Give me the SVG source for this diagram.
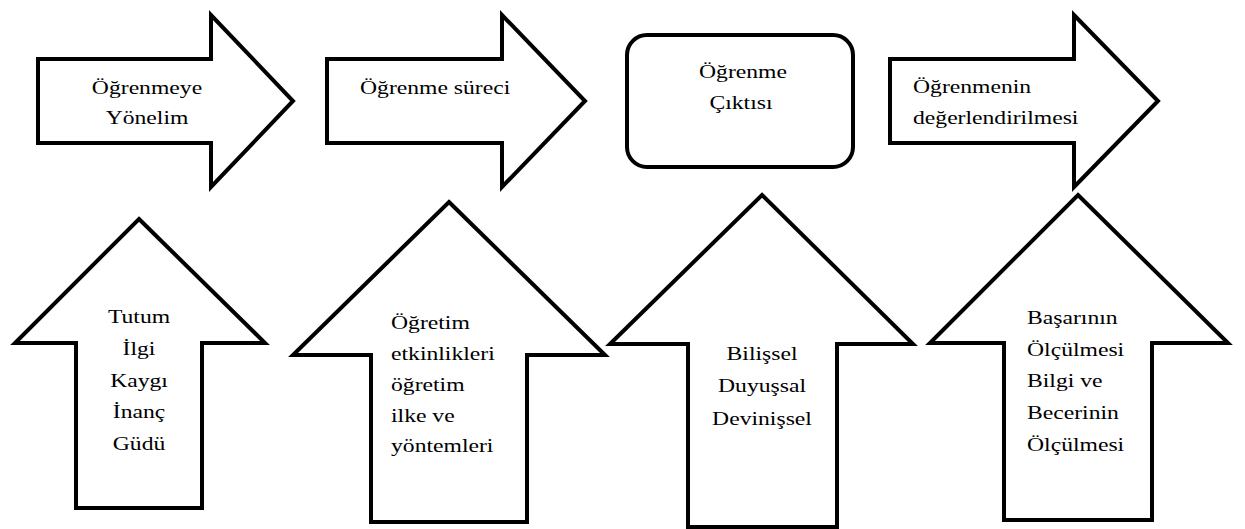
<svg xmlns="http://www.w3.org/2000/svg" width="1245" height="529" viewBox="0 0 1245 529">
<style>
.shape{fill:#fff;stroke:#000;stroke-width:4;stroke-linejoin:miter;stroke-miterlimit:10}
.t{font-family:"Liberation Serif","Times New Roman",serif;font-size:19px;fill:#000}
.c{text-anchor:middle}
</style>
<rect width="1245" height="529" fill="#fff"/>
<g id="n1">
<polygon class="shape" points="38,59 211,59 211,15 293,101 211,187 211,143 38,143"/>
<text class="t c" transform="translate(147,94) scale(1.245,1)"><tspan x="0" y="0">Öğrenmeye</tspan><tspan x="0" y="30">Yönelim</tspan></text>
</g>
<g id="n2">
<polygon class="shape" points="327,59 502,59 502,15 585,101 502,187 502,143 327,143"/>
<text class="t" transform="translate(360,94) scale(1.245,1)">Öğrenme süreci</text>
</g>
<g id="n3">
<rect class="shape" x="627" y="35" width="226" height="132" rx="20" ry="20"/>
<text class="t c" transform="translate(743,78) scale(1.245,1)">Öğrenme</text>
<text class="t c" transform="translate(741,109) scale(1.245,1)">Çıktısı</text>
</g>
<g id="n4">
<polygon class="shape" points="890,59 1074,59 1074,15 1158,101 1074,187 1074,143 890,143"/>
<text class="t" transform="translate(913,93) scale(1.245,1)"><tspan x="0" y="0">Öğrenmenin</tspan><tspan x="0" y="31">değerlendirilmesi</tspan></text>
</g>
<g id="n5">
<polygon class="shape" points="139,219 265,343 202,343 202,508 76,508 76,343 15,343"/>
<text class="t c" transform="translate(139,323) scale(1.245,1)"><tspan x="0" y="0">Tutum</tspan><tspan x="0" y="32">İlgi</tspan><tspan x="0" y="64">Kaygı</tspan><tspan x="0" y="95">İnanç</tspan><tspan x="0" y="127">Güdü</tspan></text>
</g>
<g id="n6">
<polygon class="shape" points="449,202 605,355 527,355 527,522 371,522 371,355 293,355"/>
<text class="t" transform="translate(391,329) scale(1.245,1)"><tspan x="0" y="0">Öğretim</tspan><tspan x="0" y="31">etkinlikleri</tspan><tspan x="0" y="62">öğretim</tspan><tspan x="0" y="93">ilke ve</tspan><tspan x="0" y="123">yöntemleri</tspan></text>
</g>
<g id="n7">
<polygon class="shape" points="762,195 913,344 837,344 837,527 688,527 688,344 610,344"/>
<text class="t c" transform="translate(762,360) scale(1.245,1)"><tspan x="0" y="0">Bilişsel</tspan><tspan x="0" y="32">Duyuşsal</tspan><tspan x="0" y="65">Devinişsel</tspan></text>
</g>
<g id="n8">
<polygon class="shape" points="1078,195 1228,343 1152,343 1152,520 1004,520 1004,343 930,343"/>
<text class="t" transform="translate(1027,324) scale(1.245,1)"><tspan x="0" y="0">Başarının</tspan><tspan x="0" y="32">Ölçülmesi</tspan><tspan x="0" y="63">Bilgi ve</tspan><tspan x="0" y="95">Becerinin</tspan><tspan x="0" y="127">Ölçülmesi</tspan></text>
</g>
</svg>
